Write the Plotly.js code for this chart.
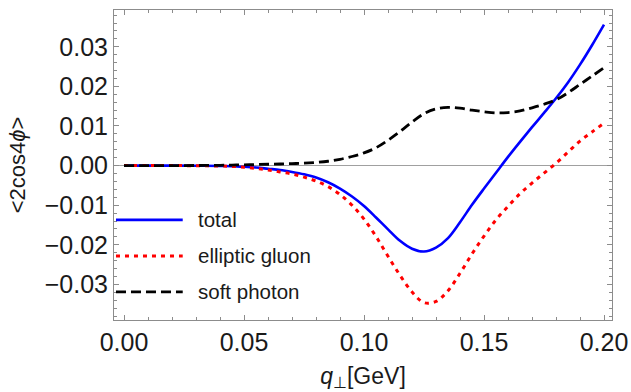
<!DOCTYPE html>
<html>
<head>
<meta charset="utf-8">
<script src="https://cdn.plot.ly/plotly-3.0.1.min.js"></script>
<style>html,body{margin:0;padding:0;background:#fff;}#chart{width:631px;height:392px;}</style>
</head>
<body>
<div id="chart"></div>
<script>
// q_perp values [GeV]
const qPerp = [0, 0.01, 0.02, 0.03, 0.04, 0.045, 0.05, 0.055, 0.06, 0.065, 0.07, 0.075, 0.08, 0.085, 0.09, 0.095,
  0.1, 0.105, 0.11, 0.115, 0.12, 0.125, 0.13, 0.135, 0.14, 0.145, 0.15, 0.155, 0.16, 0.165, 0.17, 0.175,
  0.18, 0.185, 0.19, 0.195, 0.2];

const total = [0, 0, 0, -0.00003, -0.0001, -0.00015, -0.0003, -0.0005, -0.0008, -0.0011, -0.0016, -0.0022, -0.003, -0.0042, -0.0058, -0.0078,
  -0.0102, -0.0131, -0.0161, -0.0190, -0.0210, -0.0217, -0.0207, -0.0183, -0.0143, -0.0099, -0.0058, -0.0018, 0.0022, 0.0060, 0.0097, 0.0133,
  0.0170, 0.0210, 0.0255, 0.0304, 0.0356];

const ellipticGluon = [0, 0, 0, -0.00003, -0.0001, -0.0002, -0.0004, -0.0007, -0.0011, -0.0016, -0.0021, -0.0029, -0.0039, -0.0053, -0.0073, -0.0100,
  -0.0135, -0.0179, -0.0229, -0.0277, -0.0319, -0.0346, -0.0343, -0.0316, -0.0272, -0.0223, -0.0178, -0.0137, -0.0103, -0.0071, -0.0044, -0.0019,
  0.0006, 0.0034, 0.0062, 0.0085, 0.0107];

const softPhoton = [0, 0, 0, 0.00002, 0.00008, 0.00014, 0.0002, 0.00027, 0.00034, 0.0004, 0.0005, 0.0006, 0.0008, 0.0011, 0.0016, 0.0023,
  0.0032, 0.0045, 0.0064, 0.0086, 0.0110, 0.0131, 0.0143, 0.0147, 0.0145, 0.0140, 0.0136, 0.0133, 0.0134, 0.0138, 0.0146, 0.0155,
  0.0166, 0.0184, 0.0205, 0.0226, 0.0247];

const seriesNames = ["total", "elliptic gluon", "soft photon"];
const xTickVals = [0, 0.05, 0.1, 0.15, 0.2];
const xTickText = ["0.00", "0.05", "0.10", "0.15", "0.20"];
const yTickVals = [-0.03, -0.02, -0.01, 0, 0.01, 0.02, 0.03];
const yTickText = ["\u22120.03", "\u22120.02", "\u22120.01", "0.00", "0.01", "0.02", "0.03"];

const FONT = "Liberation Sans, Arial, sans-serif";
const TXT = "#1a1a1a";
const frameColor = "#8c8c8c";

const styles = [
  {color: "#0000ff", width: 2.6, dash: "solid"},
  {color: "#ff0000", width: 3, dash: "4px,5px"},
  {color: "#000000", width: 2.8, dash: "10px,5px"}
];
const ys = [total, ellipticGluon, softPhoton];

const traces = ys.map((y, i) => ({
  x: qPerp, y: y, type: "scatter", mode: "lines", name: seriesNames[i],
  line: {color: styles[i].color, width: styles[i].width, dash: styles[i].dash, shape: "spline", smoothing: 1},
  showlegend: false, hoverinfo: "skip"
}));

// manual legend (sample lines + labels) in paper coords
const legY = [0.323, 0.2068, 0.0905];
const shapes = [];
const annotations = [];
seriesNames.forEach((nm, i) => {
  shapes.push({type: "line", xref: "paper", yref: "paper", x0: 0.004, x1: 0.138, y0: legY[i], y1: legY[i],
    line: {color: styles[i].color, width: styles[i].width, dash: styles[i].dash}});
  annotations.push({xref: "paper", yref: "paper", x: 0.164, y: legY[i], xanchor: "left", yanchor: "middle",
    text: nm, showarrow: false, font: {family: FONT, size: 20.5, color: TXT}});
});

const axisCommon = {
  showline: true, linecolor: frameColor, linewidth: 1, mirror: "allticks",
  ticks: "inside", ticklen: 5, tickcolor: frameColor, tickwidth: 1,
  showgrid: false, tickfont: {family: FONT, size: 25, color: TXT},
  tickmode: "array", fixedrange: true
};

const layout = {
  width: 631, height: 392,
  margin: {l: 114, r: 19, t: 10, b: 72},
  paper_bgcolor: "#fff", plot_bgcolor: "#fff",
  showlegend: false,
  xaxis: Object.assign({}, axisCommon, {
    range: [-0.00417, 0.20333], tickvals: xTickVals, ticktext: xTickText, zeroline: false,
    minor: {dtick: 0.01, tick0: 0, ticks: "inside", ticklen: 3, tickcolor: frameColor, showgrid: false},
    title: {text: "<i>q</i><sub>\u22a5</sub>[GeV]", font: {family: FONT, size: 23, color: TXT}, standoff: 12}
  }),
  yaxis: Object.assign({}, axisCommon, {
    range: [-0.03899, 0.03929], tickvals: yTickVals, ticktext: yTickText,
    zeroline: true, zerolinecolor: "#a0a0a0", zerolinewidth: 1,
    minor: {dtick: 0.002, tick0: 0, ticks: "inside", ticklen: 3, tickcolor: frameColor, showgrid: false},
    title: {text: "&lt;2cos4<i>\u03d5</i>&gt;", font: {family: FONT, size: 22, color: TXT}, standoff: 13}
  }),
  shapes: shapes,
  annotations: annotations
};

Plotly.newPlot("chart", traces, layout, {staticPlot: true, displayModeBar: false});
</script>
</body>
</html>
